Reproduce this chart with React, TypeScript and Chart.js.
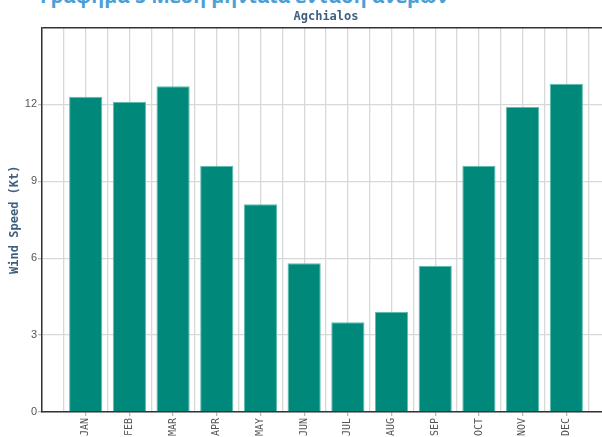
import React, { useEffect, useRef } from "react";
import { Chart, registerables } from "chart.js";

Chart.register(...registerables);

const months = ["JAN", "FEB", "MAR", "APR", "MAY", "JUN", "JUL", "AUG", "SEP", "OCT", "NOV", "DEC"];
const windSpeed = [12.3, 12.1, 12.7, 9.6, 8.1, 5.8, 3.5, 3.9, 5.7, 9.6, 11.9, 12.8];
const yTicks = [0, 3, 6, 9, 12];
const chartTitle = "Agchialos";
const yTitle = "Wind Speed (Kt)";
const pageHeading = "Γράφημα 5 Μέση μηνιαία ένταση ανέμων";

export default function App() {
  const ref = useRef<HTMLCanvasElement | null>(null);

  useEffect(() => {
    if (!ref.current) return;
    const data = months.map((m, i) => ({ x: i + 1, y: windSpeed[i] }));
    const chart = new Chart(ref.current, {
      type: "bar",
      data: {
        datasets: [
          {
            data: data as any,
            backgroundColor: "#00897B",
            borderColor: "#5fbdb0",
            borderWidth: 1,
            barPercentage: 1.52,
            categoryPercentage: 1,
          },
        ],
      },
      options: {
        animation: false,
        responsive: false,
        devicePixelRatio: 1,
        layout: { padding: { top: 0, right: 2, left: 0, bottom: 0 } },
        plugins: {
          legend: { display: false },
          tooltip: { enabled: false },
          title: {
            display: true,
            text: chartTitle,
            fullSize: false,
            color: "#3f5f80",
            font: { family: "'DejaVu Sans Mono'", size: 12, weight: "bold" },
            padding: { top: 10, bottom: 3 },
          },
        },
        scales: {
          x: {
            type: "linear",
            min: 0,
            max: 13,
            offset: false,
            afterBuildTicks: (scale: any) => {
              const t: any[] = [];
              for (let v = 0; v <= 26; v++) t.push({ value: v / 2 });
              scale.ticks = t;
            },
            afterFit: (scale: any) => {
              scale.height = 25;
            },
            ticks: {
              autoSkip: false,
              maxRotation: 90,
              minRotation: 90,
              padding: 2,
              color: "#555",
              font: { family: "'DejaVu Sans Mono'", size: 10 },
              callback: (v: any) => {
                const n = Number(v);
                if (Number.isInteger(n) && n >= 1 && n <= 12) return months[n - 1];
                return "";
              },
            },
            grid: {
              offset: false,
              color: "#d8d8d8",
              lineWidth: 1.3,
              tickLength: 4,
              tickColor: (ctx: any) =>
                ctx.tick && Number.isInteger(ctx.tick.value) && ctx.tick.value >= 1 && ctx.tick.value <= 12
                  ? "#bbb"
                  : "rgba(0,0,0,0)",
            },
            border: { display: true, color: "#333", width: 1.5 },
          },
          y: {
            min: 0,
            max: 15,
            afterBuildTicks: (scale: any) => {
              scale.ticks = [...yTicks, 15].map((v) => ({ value: v }));
            },
            afterFit: (scale: any) => {
              scale.width = 42;
            },
            ticks: {
              color: "#555",
              padding: 1,
              font: { family: "'Liberation Sans'", size: 11 },
              callback: (v: any) => (Number(v) === 15 ? "" : String(v)),
            },
            grid: {
              color: (ctx: any) => (ctx.tick && ctx.tick.value === 15 ? "#333" : "#d8d8d8"),
              lineWidth: (ctx: any) => (ctx.tick && ctx.tick.value === 15 ? 1.5 : 1.3),
              tickLength: 4,
              tickColor: (ctx: any) => (ctx.tick && ctx.tick.value === 15 ? "rgba(0,0,0,0)" : "#bbb"),
            },
            border: { display: true, color: "#333", width: 1.5 },
            title: {
              display: true,
              text: yTitle,
              color: "#3f5f80",
              font: { family: "'DejaVu Sans Mono'", size: 12, weight: "bold" },
              padding: { top: 8, bottom: 0 },
            },
          },
        },
      },
    });
    return () => chart.destroy();
  }, []);

  return (
    <div
      style={{
        position: "fixed",
        left: 0,
        top: 0,
        width: 602,
        height: 437,
        overflow: "hidden",
        background: "#fff",
      }}
    >
      <div
        style={{
          position: "absolute",
          left: 40,
          top: -14,
          fontFamily: "'Open Sans', 'Noto Sans', sans-serif",
          fontWeight: 700,
          fontSize: 19.6,
          lineHeight: "20px",
          color: "#4a9fd6",
          whiteSpace: "nowrap",
        }}
      >
        {pageHeading}
      </div>
      <canvas
        ref={ref}
        width={624}
        height={437}
        style={{ position: "absolute", left: 0, top: 0, width: 624, height: 437 }}
      />
    </div>
  );
}
